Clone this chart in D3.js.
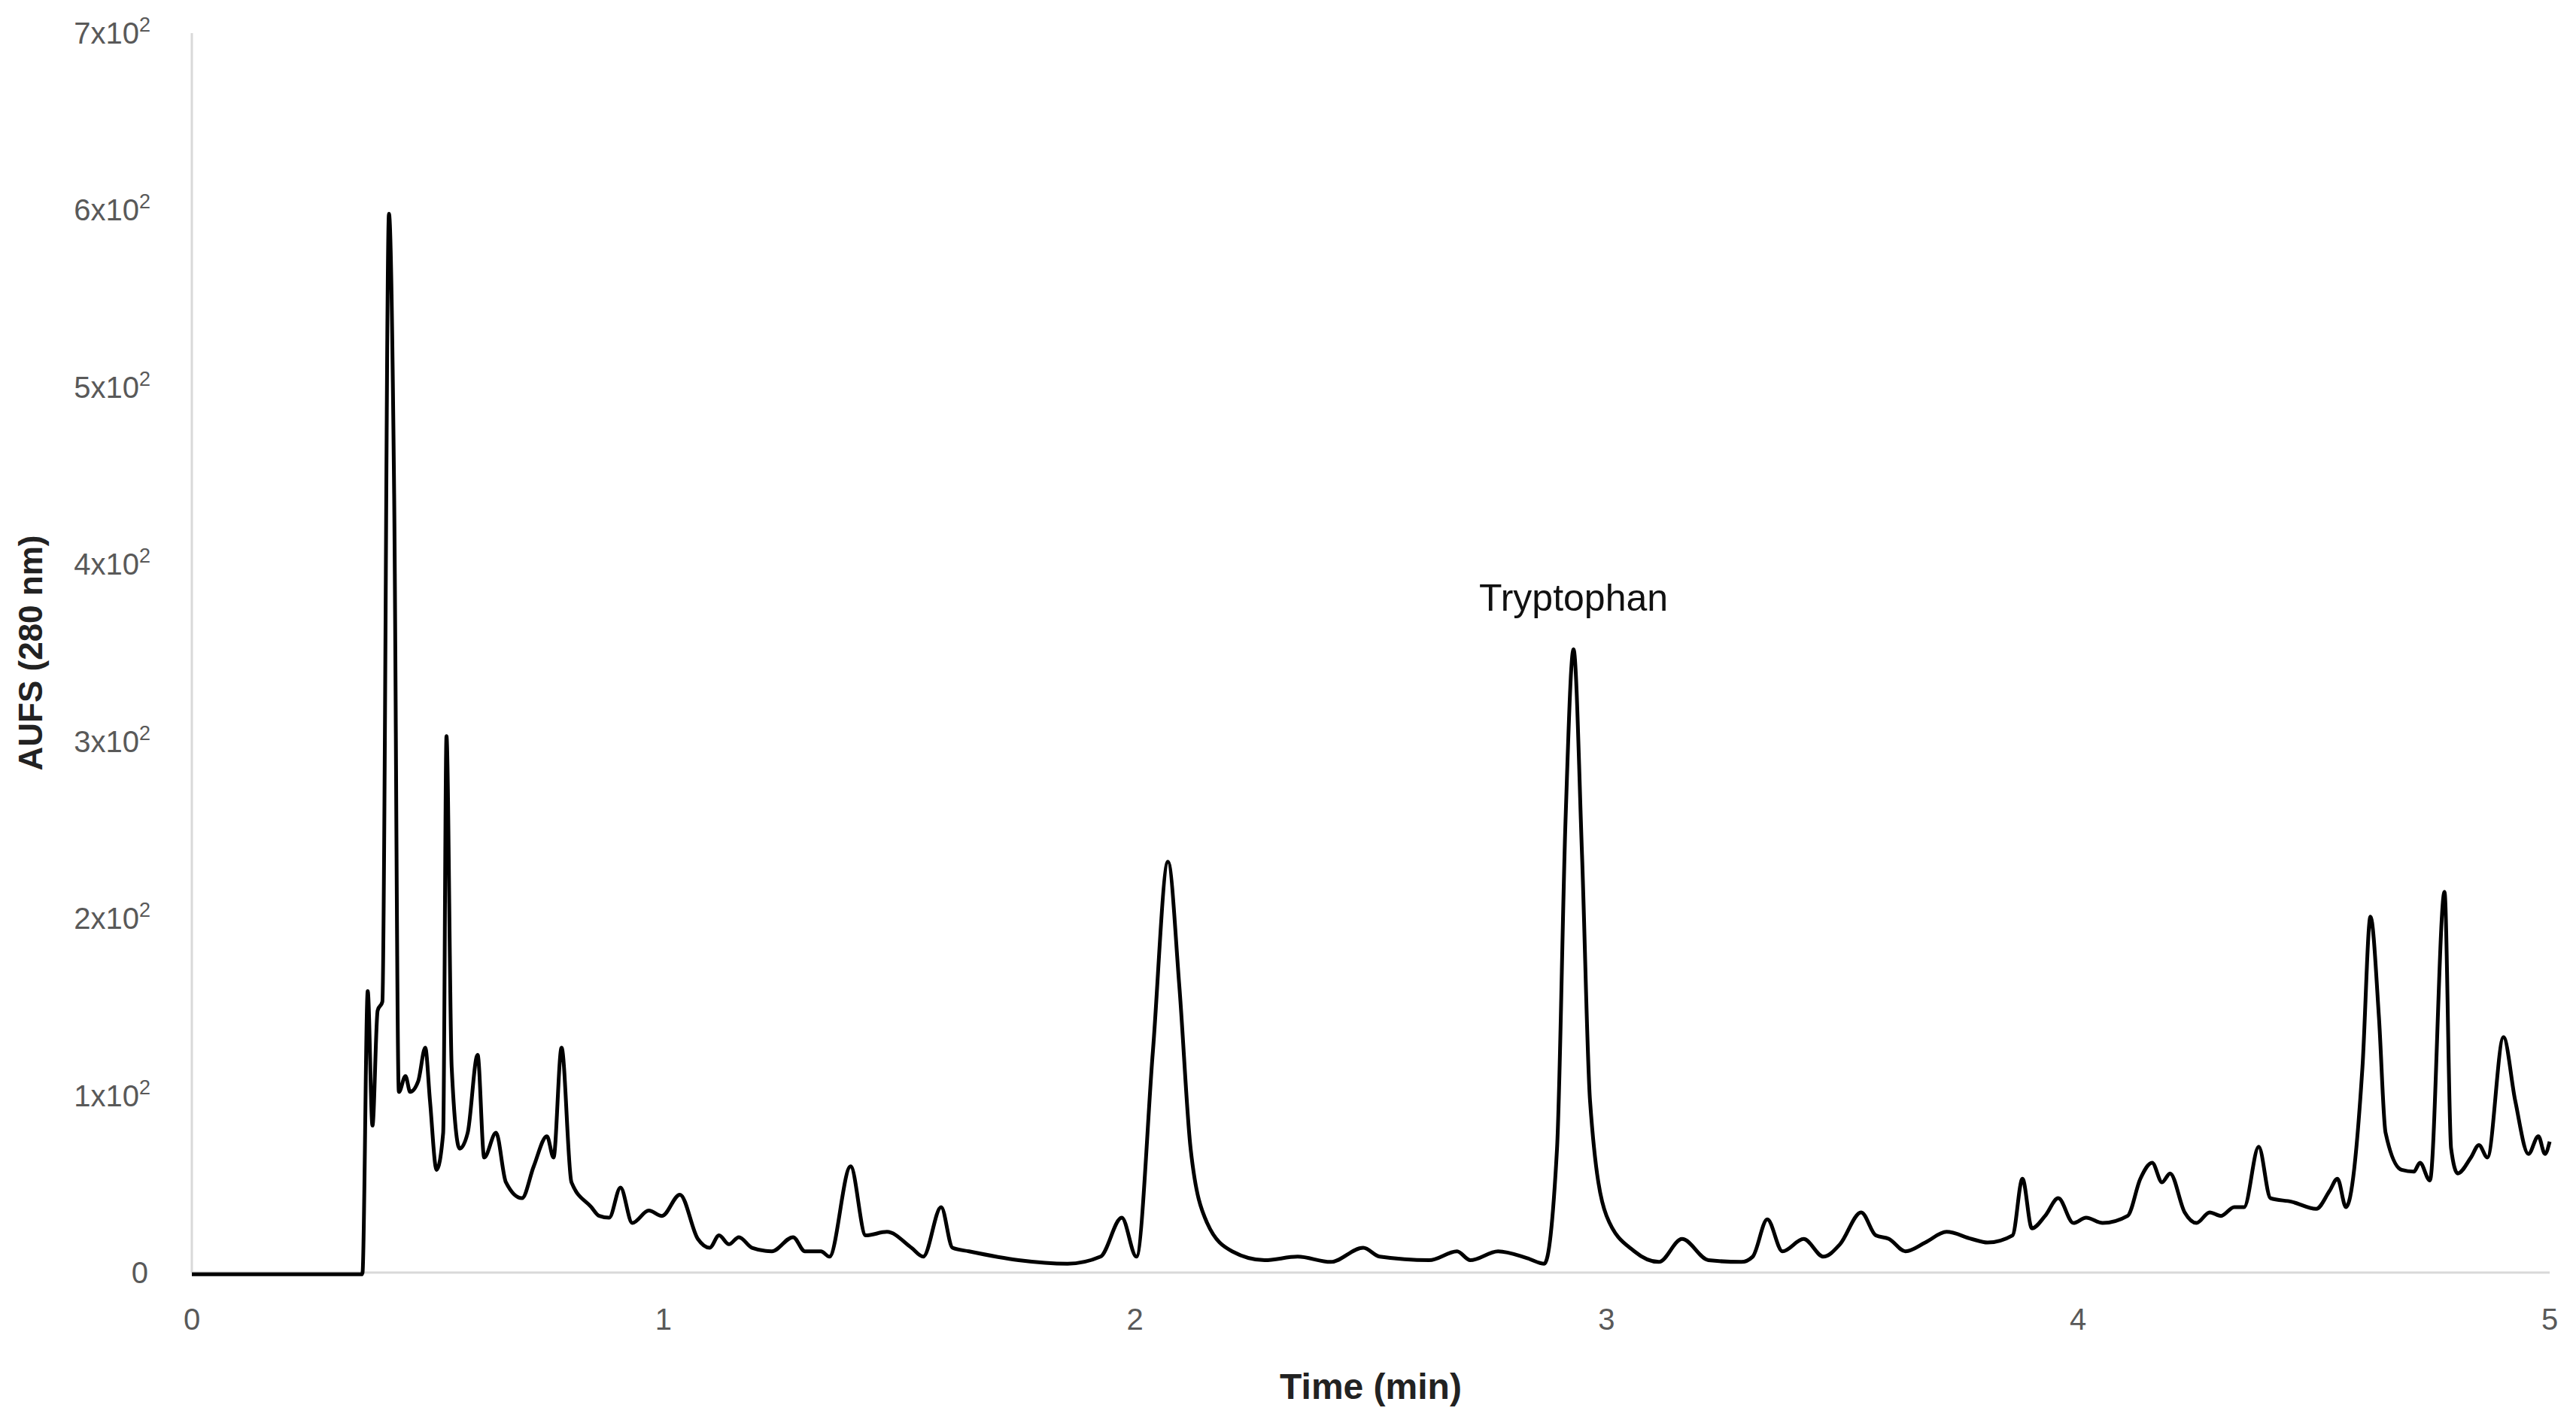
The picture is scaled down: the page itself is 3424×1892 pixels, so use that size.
<!DOCTYPE html>
<html><head><meta charset="utf-8">
<script src="https://cdn.jsdelivr.net/npm/d3@7"></script>
<style>body{margin:0;background:#fff}svg{display:block}</style>
</head><body>
<script>
const times=[0,0.36,0.362,0.373,0.383,0.394,0.404,0.418,0.429,0.439,0.453,0.463,0.48,0.495,0.505,0.519,0.533,0.540,0.551,0.568,0.585,0.606,0.620,0.645,0.666,0.700,0.725,0.753,0.767,0.784,0.805,0.847,0.864,0.885,0.909,0.934,0.969,0.997,1.035,1.073,1.098,1.118,1.139,1.160,1.188,1.230,1.275,1.30,1.334,1.352,1.397,1.429,1.474,1.526,1.551,1.589,1.613,1.648,1.753,1.857,1.927,1.972,2.003,2.038,2.07,2.094,2.118,2.153,2.206,2.275,2.345,2.415,2.484,2.519,2.624,2.683,2.711,2.770,2.833,2.868,2.895,2.913,2.930,2.948,2.965,3.0,3.059,3.111,3.160,3.216,3.286,3.310,3.341,3.373,3.418,3.46,3.495,3.54,3.571,3.599,3.634,3.676,3.721,3.774,3.808,3.861,3.882,3.902,3.930,3.958,3.990,4.017,4.052,4.105,4.132,4.157,4.178,4.195,4.226,4.251,4.279,4.303,4.331,4.352,4.383,4.408,4.453,4.505,4.533,4.55,4.568,4.603,4.620,4.638,4.652,4.686,4.712,4.725,4.746,4.777,4.791,4.805,4.833,4.85,4.868,4.902,4.927,4.955,4.976,4.99,5.0];
const aufs=[-1,-1,0,159,83,148,153,598,440,102,111,102,108,127,97,58,79,303,116,70,79,123,65,79,51,42,60,77,65,127,51,37,32,31,48,28,35,32,44,19,14,21,16,20,14,12,20,12,12,9,60,21,23,14,9,37,14,12,7,5,9,31,9,125,232,162,70,28,12,7,9,6,14,9,7,12,7,12,8,5,70,255,352,236,97,32,12,6,19,7,6,9,30,12,19,9,16,34,21,19,12,17,23,19,17,21,53,25,32,42,28,31,28,32,53,62,51,56,34,28,34,32,37,37,71,42,40,36,46,53,37,116,201,144,79,58,57,62,52,215,70,56,65,72,65,133,97,67,77,67,74];
const xTicks=[0,1,2,3,4,5];
const yTicks=[0,100,200,300,400,500,600,700];
const yTickLabels=["0","1x10","2x10","3x10","4x10","5x10","6x10","7x10"];

const W=3424,H=1892;
const svg=d3.select("body").append("svg").attr("width",W).attr("height",H);
const x=d3.scaleLinear().domain([0,5]).range([255,3389]);
const y=d3.scaleLinear().domain([0,700]).range([1692,44]);
const font="'Liberation Sans', Arial, sans-serif";

svg.append("line").attr("x1",x(0)).attr("x2",x(0)).attr("y1",y(700)).attr("y2",y(0)).attr("stroke","#d9d9d9").attr("stroke-width",3);
svg.append("line").attr("x1",x(0)).attr("x2",x(5)).attr("y1",y(0)).attr("y2",y(0)).attr("stroke","#d9d9d9").attr("stroke-width",3);

const yl=svg.append("g").selectAll("text").data(yTicks).join("text")
 .attr("x",d=>d===0?197:200).attr("y",d=>y(d)+14).attr("text-anchor","end")
 .attr("font-family",font).attr("font-size",40).attr("fill","#595959");
yl.each(function(d,i){const t=d3.select(this);t.append("tspan").text(yTickLabels[i]);
 if(d!==0)t.append("tspan").attr("dy",-16).attr("font-size",27).text("2");});

svg.append("g").selectAll("text").data(xTicks).join("text")
 .attr("x",d=>x(d)).attr("y",1768).attr("text-anchor","middle")
 .attr("font-family",font).attr("font-size",40).attr("fill","#595959").text(d=>d);

svg.append("text").attr("x",x(2.5)).attr("y",1860).attr("text-anchor","middle")
 .attr("font-family",font).attr("font-size",48).attr("font-weight","bold").attr("fill","#222").text("Time (min)");
svg.append("text").attr("transform",`translate(56,${y(350)}) rotate(-90)`).attr("text-anchor","middle")
 .attr("font-family",font).attr("font-size",44).attr("font-weight","bold").attr("fill","#222").text("AUFS (280 nm)");

const data=times.map((t,i)=>[t,aufs[i]]);
svg.append("path").datum(data).attr("fill","none").attr("stroke","#000").attr("stroke-width",5)
 .attr("stroke-linejoin","round")
 .attr("d",d3.line().x(d=>x(d[0])).y(d=>y(d[1])).curve(d3.curveMonotoneX));

svg.append("text").attr("x",x(2.93)).attr("y",812).attr("text-anchor","middle")
 .attr("font-family",font).attr("font-size",50).attr("fill","#111").text("Tryptophan");
</script>
</body></html>
